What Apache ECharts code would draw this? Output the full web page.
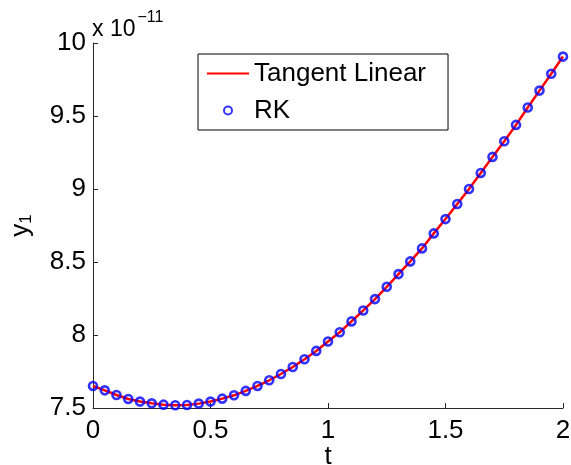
<!DOCTYPE html>
<html>
<head>
<meta charset="utf-8">
<title>Tangent Linear vs RK</title>
<script src="https://cdn.jsdelivr.net/npm/echarts@6/dist/echarts.min.js"></script>
<style>
  html, body { margin: 0; padding: 0; background: #fff; }
  #chart { width: 571px; height: 465px; }
</style>
</head>
<body>
<div id="chart"></div>
<script>
// time steps
var tValues = [0, 0.05, 0.1, 0.15, 0.2, 0.25, 0.3, 0.35, 0.4, 0.45,
  0.5, 0.55, 0.6, 0.65, 0.7, 0.75, 0.8, 0.85, 0.9, 0.95,
  1.0, 1.05, 1.1, 1.15, 1.2, 1.25, 1.3, 1.35, 1.4, 1.45,
  1.5, 1.55, 1.6, 1.65, 1.7, 1.75, 1.8, 1.85, 1.9, 1.95, 2.0]
// y_1 in units of 1e-11
var tangentLinear = [7.651, 7.621, 7.589, 7.562, 7.544, 7.532, 7.523, 7.519, 7.521, 7.530,
  7.544, 7.564, 7.587, 7.617, 7.651, 7.690, 7.733, 7.781, 7.834, 7.891,
  7.955, 8.019, 8.093, 8.168, 8.246, 8.330, 8.417, 8.504, 8.593, 8.696,
  8.794, 8.897, 9.000, 9.110, 9.220, 9.327, 9.439, 9.558, 9.674, 9.789, 9.907]
var rk = [7.651, 7.621, 7.589, 7.562, 7.544, 7.532, 7.523, 7.519, 7.521, 7.530,
  7.544, 7.564, 7.587, 7.617, 7.651, 7.690, 7.733, 7.781, 7.834, 7.891,
  7.955, 8.019, 8.093, 8.168, 8.246, 8.330, 8.417, 8.504, 8.593, 8.696,
  8.794, 8.897, 9.000, 9.110, 9.220, 9.327, 9.439, 9.558, 9.674, 9.789, 9.907]

var fontFamily = '"Liberation Sans", Arial, Helvetica, sans-serif'
var axisColor = '#262626'

function pairs(xs, ys) {
  return xs.map(function(x, i) { return [x, ys[i]] })
}

var chart = echarts.init(document.getElementById('chart'))
chart.setOption({
  backgroundColor: '#fff',
  animation: false,
  textStyle: { fontFamily: fontFamily },
  grid: {
    left: 93,
    right: 8,
    top: 43,
    bottom: 57,
    containLabel: false,
    outerBoundsMode: 'none'
  },
  legend: {
    orient: 'vertical',
    left: 198,
    top: 54,
    padding: [6, 22, 6, 8],
    itemWidth: 42,
    itemHeight: 8,
    itemGap: 10,
    borderColor: '#000',
    borderWidth: 1,
    backgroundColor: '#fff',
    textStyle: { color: '#000', fontSize: 26, fontFamily: fontFamily, lineHeight: 27 },
    data: [
      { name: 'Tangent Linear', itemStyle: { opacity: 0 } },
      { name: 'RK' }
    ]
  },
  xAxis: {
    type: 'value',
    min: 0,
    max: 2,
    interval: 0.5,
    name: 't',
    nameLocation: 'middle',
    nameGap: 36,
    nameMoveOverlap: false,
    nameTextStyle: { color: '#000', fontSize: 26, fontFamily: fontFamily },
    axisLine: { show: true, lineStyle: { color: axisColor, width: 1 } },
    axisTick: { show: true, inside: true, length: 5, lineStyle: { color: axisColor } },
    axisLabel: { color: '#000', fontSize: 26, margin: 10, fontFamily: fontFamily },
    splitLine: { show: false }
  },
  yAxis: {
    type: 'value',
    min: 7.5,
    max: 10,
    interval: 0.5,
    name: '{a|y}{b|1}',
    nameLocation: 'middle',
    nameGap: 58,
    nameRotate: 90,
    nameMoveOverlap: false,
    nameTextStyle: {
      color: '#000',
      fontFamily: fontFamily,
      rich: {
        a: { fontSize: 26, fontFamily: fontFamily, color: '#000' },
        b: { fontSize: 17, fontFamily: fontFamily, color: '#000', padding: [12, 0, 0, 0] }
      }
    },
    axisLine: { show: true, lineStyle: { color: axisColor, width: 1 } },
    axisTick: { show: true, inside: true, length: 5, lineStyle: { color: axisColor } },
    axisLabel: { color: '#000', fontSize: 26, margin: 7, fontFamily: fontFamily },
    splitLine: { show: false }
  },
  graphic: [{
    type: 'text',
    left: 92,
    top: 10,
    style: {
      text: '{a|x 10}{b|\u221211}',
      rich: {
        a: { fontSize: 23, fontFamily: fontFamily, fill: '#000', padding: [12, 0, 0, 0] },
        b: { fontSize: 16, fontFamily: fontFamily, fill: '#000', padding: [0, 0, 12, 2] }
      }
    }
  }],
  series: [
    {
      name: 'Tangent Linear',
      type: 'line',
      symbol: 'none',
      smooth: false,
      lineStyle: { color: '#ff0000', width: 2.5 },
      itemStyle: { color: '#ff0000' },
      z: 2,
      data: pairs(tValues, tangentLinear)
    },
    {
      name: 'RK',
      type: 'scatter',
      symbol: 'circle',
      symbolSize: 8,
      itemStyle: { color: 'rgba(0,0,0,0)', borderColor: '#0000ff', borderWidth: 2.6 },
      z: 3,
      data: pairs(tValues, rk)
    }
  ]
})
</script>
</body>
</html>
